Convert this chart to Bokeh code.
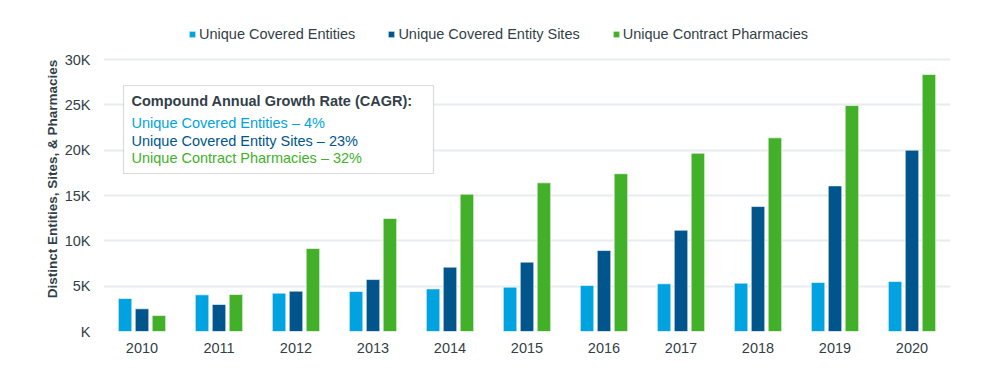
from bokeh.plotting import figure
from bokeh.models import (ColumnDataSource, Range1d, FixedTicker, Legend, LegendItem,
                          BoxAnnotation, Label)
from bokeh.transform import dodge
from bokeh.embed import file_html
from bokeh.resources import INLINE

# ---- data ----
years = [2010, 2011, 2012, 2013, 2014, 2015, 2016, 2017, 2018, 2019, 2020]
covered_entities = [3640, 4040, 4230, 4410, 4700, 4890, 5070, 5260, 5330, 5400, 5510]
covered_entity_sites = [2500, 2980, 4450, 5730, 7100, 7650, 8930, 11170, 13780, 16060, 20000]
contract_pharmacies = [1760, 4080, 9150, 12460, 15140, 16400, 17400, 19660, 21360, 24920, 28340]
series_names = ["Unique Covered Entities", "Unique Covered Entity Sites", "Unique Contract Pharmacies"]
y_ticks = [0, 5000, 10000, 15000, 20000, 25000, 30000]
y_tick_labels = ["K", "5K", "10K", "15K", "20K", "25K", "30K"]
cagr_title = "Compound Annual Growth Rate (CAGR):"
cagr_lines = ["Unique Covered Entities \u2013 4%", "Unique Covered Entity Sites \u2013 23%",
              "Unique Contract Pharmacies \u2013 32%"]

# ---- style ----
C_LIGHT = "#00a3e0"
C_DARK = "#00558c"
C_GREEN = "#43b02a"
TXT = "#333f48"
FONT = "Liberation Sans"
colors = [C_LIGHT, C_DARK, C_GREEN]

idx = list(range(len(years)))
src = ColumnDataSource(dict(x=idx, a=covered_entities, b=covered_entity_sites, c=contract_pharmacies))

W, H = 992, 374
ML, MR, MT, MB = 103, 42, 26, 43
FW, FH = W - ML - MR, H - MT - MB
BOTTOM = H - MB                 # pixel row of the zero line
PX_30K = 272                    # pixel height of 0..30K
px_per_y = PX_30K / 30000.0
px_per_x = FW / len(years)
Y_END = FH / px_per_y

p = figure(width=W, height=H, output_backend="svg", toolbar_location=None,
           x_range=Range1d(-0.5, len(years) - 0.5), y_range=Range1d(0, Y_END),
           min_border_left=ML, min_border_right=MR, min_border_top=MT, min_border_bottom=MB)
p.outline_line_color = None
p.background_fill_color = "white"
p.border_fill_color = "white"

bw = 0.175
off = 0.22
renderers = []
for col, o, colr in zip(["a", "b", "c"], [-off, 0, off], colors):
    r = p.vbar(x=dodge("x", o), top=col, width=bw, source=src, fill_color=colr,
               line_color="white", line_alpha=0.6, line_width=1)
    renderers.append(r)

# axes
p.xaxis.ticker = FixedTicker(ticks=idx)
p.xaxis.major_label_overrides = {i: str(y) for i, y in zip(idx, years)}
p.yaxis.ticker = FixedTicker(ticks=y_ticks)
p.yaxis.major_label_overrides = {t: l for t, l in zip(y_ticks, y_tick_labels)}
for ax in (p.xaxis, p.yaxis):
    ax.axis_line_color = None
    ax.major_tick_line_color = None
    ax.minor_tick_line_color = None
    ax.major_tick_out = 0
    ax.major_tick_in = 0
    ax.minor_tick_out = 0
    ax.minor_tick_in = 0
    ax.major_label_text_font = FONT
    ax.major_label_text_font_size = "14.5px"
    ax.major_label_text_color = TXT
p.yaxis.major_label_standoff = 13
p.xaxis.major_label_standoff = 11
p.yaxis.axis_label = "Distinct Entities, Sites, & Pharmacies"
p.yaxis.axis_label_text_font = FONT
p.yaxis.axis_label_text_font_size = "13.5px"
p.yaxis.axis_label_text_font_style = "bold"
p.yaxis.axis_label_text_color = TXT
p.yaxis.axis_label_standoff = 2

p.xgrid.grid_line_color = None
p.ygrid.ticker = FixedTicker(ticks=y_ticks)
p.ygrid.grid_line_color = "#e9ecef"
p.ygrid.grid_line_width = 2

# legend (top of the plot area, above the 30K line)
legend = Legend(items=[LegendItem(label=n, renderers=[r]) for n, r in zip(series_names, renderers)],
                orientation="horizontal", location=(85, BOTTOM - 44),
                padding=0, margin=0, spacing=32, glyph_width=8, glyph_height=8,
                label_standoff=3, label_height=20,
                label_text_font=FONT, label_text_font_size="14.5px", label_text_color=TXT,
                background_fill_alpha=0, border_line_color=None)
p.add_layout(legend, "center")

# CAGR box (page pixel positions converted to data positions)
def fx(px):
    return -0.5 + (px - ML) / px_per_x
def fy(py):
    return (BOTTOM - py) / px_per_y

box = BoxAnnotation(left=fx(123), right=fx(433), top=fy(85), bottom=fy(173),
                    fill_color="white", fill_alpha=1, line_color="#83878b", line_width=1.2,
                    level="annotation")
p.add_layout(box)
p.add_layout(Label(x=fx(131), y=fy(100), text=cagr_title, text_font=FONT, text_font_size="14.5px",
                   text_font_style="bold", text_color=TXT, text_baseline="middle"))
for i, (t, c) in enumerate(zip(cagr_lines, colors)):
    p.add_layout(Label(x=fx(131), y=fy([122, 140, 157][i]), text=t, text_font=FONT,
                       text_font_size="14.5px", text_color=c, text_baseline="middle"))

open("out.html", "w").write(file_html(p, INLINE))
